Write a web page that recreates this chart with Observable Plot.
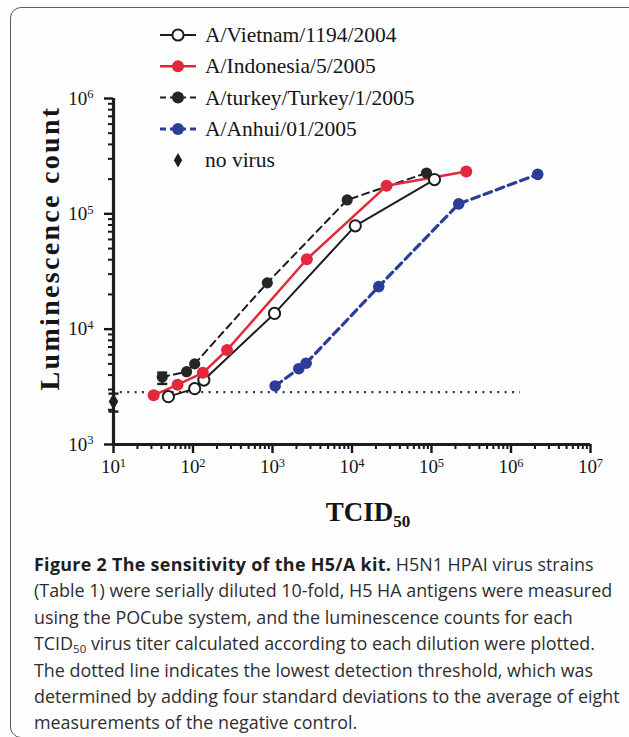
<!DOCTYPE html>
<html>
<head>
<meta charset="utf-8">
<script src="https://cdn.jsdelivr.net/npm/d3@7"></script>
<script src="https://cdn.jsdelivr.net/npm/@observablehq/plot@0.6"></script>
<style>
  body { margin: 0; background: #fefefe; }
  #wrap { position: relative; width: 629px; height: 737px; overflow: hidden; background: #fefefe;
          font-family: "Liberation Serif", "Times New Roman", serif; }
  #frame { position: absolute; left: 10px; top: 7px; width: 720px; height: 731px;
           border: 1.6px solid #5a5a5a; border-radius: 11px; box-sizing: border-box; }
  #chart { position: absolute; left: 0; top: 0; }
  #legend { position: absolute; left: 0; top: 0; }
  #ytitle { position: absolute; left: 50px; top: 248px; transform: translate(-50%, -50%) rotate(-90deg);
            white-space: nowrap; font-weight: bold; font-size: 28px; letter-spacing: 2.3px; color: #151515; }
  #xtitle { position: absolute; left: 368px; top: 512px; transform: translate(-50%, -50%);
            white-space: nowrap; font-weight: bold; font-size: 27px; color: #151515; }
  #xtitle sub { font-size: 17px; vertical-align: -6px; line-height: 0; }
  #caption { position: absolute; left: 34px; top: 551px; font-family: "Open Sans", sans-serif;
             font-size: 17.9px; line-height: 26.4px; color: #2e2e2e; white-space: nowrap; letter-spacing: 0px; }
  #caption b { color: #1e1e1e; letter-spacing: 0.3px; }
  #caption sub { font-size: 11.5px; vertical-align: -3px; line-height: 0; }
</style>
</head>
<body>
<div id="wrap">
  <div id="frame"></div>
  <div id="chart"></div>
  <svg id="legend" width="629" height="180"></svg>
  <div id="ytitle">Luminescence count</div>
  <div id="xtitle">TCID<sub>50</sub></div>
  <div id="caption">
    <b>Figure 2 The sensitivity of the H5/A kit.</b> H5N1 HPAI virus strains<br>
    (Table 1) were serially diluted 10-fold, H5 HA antigens were measured<br>
    using the POCube system, and the luminescence counts for each<br>
    TCID<sub>50</sub> virus titer calculated according to each dilution were plotted.<br>
    The dotted line indicates the lowest detection threshold, which was<br>
    determined by adding four standard deviations to the average of eight<br>
    measurements of the negative control.
  </div>
</div>
<script>
// ---- data ----
const seriesNames = ["A/Vietnam/1194/2004", "A/Indonesia/5/2005", "A/turkey/Turkey/1/2005", "A/Anhui/01/2005", "no virus"];

const vietnamX = [49, 105, 137, 1060, 11000, 109000];
const vietnamY = [2600, 3050, 3620, 13700, 78700, 198000];

const indonesiaX = [32, 64, 133, 268, 2700, 27200, 274000];
const indonesiaY = [2670, 3300, 4180, 6600, 40400, 175000, 233000];

const turkeyX = [41, 83, 105, 860, 8700, 86500];
const turkeyY = [3850, 4280, 5000, 25200, 132000, 226000];
const turkeyErrLow = [3350];
const turkeyErrHigh = [4200];

const anhuiX = [1080, 2140, 2650, 21700, 220000, 2170000];
const anhuiY = [3220, 4540, 5070, 23400, 122000, 220000];

const noVirusX = [10];
const noVirusY = [2360];
const noVirusLow = [1930];
const noVirusHigh = [2760];

const thresholdY = [2850];
const thresholdX = [12, 1300000];

const xTicksMajor = [10, 100, 1e3, 1e4, 1e5, 1e6, 1e7];
const yTicksMajor = [1e3, 1e4, 1e5, 1e6];

// ---- build ----
const minorOf = (majors) => majors.slice(0, -1).flatMap(m => [2,3,4,5,6,7,8,9].map(k => k * m));
const xTicksMinor = minorOf(xTicksMajor);
const yTicksMinor = minorOf(yTicksMajor);

const pts = (xs, ys) => xs.map((x, i) => ({x, y: ys[i]}));
const vietnam = pts(vietnamX, vietnamY);
const indonesia = pts(indonesiaX, indonesiaY);
const turkey = pts(turkeyX, turkeyY);
const anhui = pts(anhuiX, anhuiY);
const noVirus = noVirusX.map((x, i) => ({x, y: noVirusY[i], lo: noVirusLow[i], hi: noVirusHigh[i]}));
const turkeyErr = turkeyErrLow.map((lo, i) => ({x: turkeyX[i], lo, hi: turkeyErrHigh[i]}));
const threshold = [{x1: thresholdX[0], x2: thresholdX[1], y: thresholdY[0]}];

const RED = "#e3283c", BLUE = "#2b3d98", BLACK = "#1d1d1d";
const cap = { draw(ctx) { ctx.moveTo(-5, 0); ctx.lineTo(5, 0); } };
const expFmt = d => String(Math.round(Math.log10(d)));

const chart = Plot.plot({
  width: 629, height: 540,
  marginLeft: 113, marginRight: 39, marginTop: 98, marginBottom: 96,
  x: {type: "log", domain: [10, 1e7]},
  y: {type: "log", domain: [1e3, 1e6]},
  style: {fontFamily: "'Liberation Serif', 'Times New Roman', serif", fontSize: "19px", color: "#151515", background: "transparent", overflow: "visible"},
  marks: [
    Plot.axisX(xTicksMinor, {tickSize: 5, strokeWidth: 2, tickFormat: () => "", label: null}),
    Plot.axisX(xTicksMajor, {tickSize: 9, strokeWidth: 2.4, tickFormat: expFmt, tickPadding: 6, fontSize: 19, label: null}),
    Plot.axisY(yTicksMinor, {tickSize: 5, strokeWidth: 2, tickFormat: () => "", label: null}),
    Plot.axisY(yTicksMajor, {tickSize: 9, strokeWidth: 2.4, tickFormat: expFmt, tickPadding: 11, fontSize: 19, label: null}),
    Plot.ruleY([1e3], {stroke: BLACK, strokeWidth: 3.2}),
    Plot.ruleX([10], {stroke: BLACK, strokeWidth: 3.2}),
    Plot.link(threshold, {x1: "x1", x2: "x2", y1: "y", y2: "y", stroke: "#333", strokeWidth: 2.2, strokeDasharray: "2 5.4"}),
    // error bars
    Plot.ruleX(noVirus, {x: "x", y1: "lo", y2: "hi", stroke: BLACK, strokeWidth: 2.2}),
    Plot.dot(noVirus, {x: "x", y: "lo", symbol: cap, stroke: BLACK, strokeWidth: 2.4}),
    Plot.dot(noVirus, {x: "x", y: "hi", symbol: cap, stroke: BLACK, strokeWidth: 2.4}),
    Plot.ruleX(turkeyErr, {x: "x", y1: "lo", y2: "hi", stroke: BLACK, strokeWidth: 2}),
    Plot.dot(turkeyErr, {x: "x", y: "hi", symbol: cap, stroke: BLACK, strokeWidth: 2.4}),
    Plot.dot(turkeyErr, {x: "x", y: "lo", symbol: cap, stroke: BLACK, strokeWidth: 2.4}),
    // lines
    Plot.line(anhui, {x: "x", y: "y", stroke: BLUE, strokeWidth: 3.2, strokeDasharray: "8 5"}),
    Plot.line(turkey, {x: "x", y: "y", stroke: BLACK, strokeWidth: 2, strokeDasharray: "7 5"}),
    Plot.line(vietnam, {x: "x", y: "y", stroke: BLACK, strokeWidth: 2}),
    Plot.line(indonesia, {x: "x", y: "y", stroke: RED, strokeWidth: 2.5}),
    // points
    Plot.dot(anhui, {x: "x", y: "y", r: 5.8, fill: BLUE}),
    Plot.dot(turkey, {x: "x", y: "y", r: 5.6, fill: "#262626"}),
    Plot.dot(vietnam, {x: "x", y: "y", r: 5.6, fill: "#fefefe", stroke: BLACK, strokeWidth: 2}),
    Plot.dot(indonesia, {x: "x", y: "y", r: 6, fill: RED}),
    Plot.dot(noVirus, {x: "x", y: "y", r: 5, symbol: "diamond", fill: BLACK})
  ]
});
document.getElementById("chart").appendChild(chart);

// superscript tick labels 10^n
chart.querySelectorAll('g[aria-label$="tick label"] text').forEach(t => {
  const e = t.textContent.trim();
  if (!e) return;
  t.textContent = "10";
  const s = document.createElementNS("http://www.w3.org/2000/svg", "tspan");
  s.setAttribute("dy", "-0.5em");
  s.setAttribute("font-size", "0.66em");
  s.textContent = e;
  t.appendChild(s);
});

// legend
const leg = d3.select("#legend");
const styles = [
  {stroke: BLACK, dash: null, w: 2, fill: "#fefefe", ring: true, line: true},
  {stroke: RED, dash: null, w: 2.5, fill: RED, ring: false, line: true},
  {stroke: BLACK, dash: "7 5", w: 2, fill: "#262626", ring: false, line: true},
  {stroke: BLUE, dash: "8 5", w: 3, fill: BLUE, ring: false, line: true},
  {stroke: BLACK, dash: null, w: 0, fill: BLACK, ring: false, line: false, diamond: true}
];
seriesNames.forEach((name, i) => {
  const y = 35 + i * 31.3, cx = 178, st = styles[i];
  const g = leg.append("g");
  if (st.line) {
    const ln = g.append("line").attr("x1", 160).attr("x2", 196).attr("y1", y).attr("y2", y)
      .attr("stroke", st.stroke).attr("stroke-width", st.w);
    if (st.dash) ln.attr("stroke-dasharray", "6 4").attr("stroke-dashoffset", 0);
  }
  if (st.diamond) {
    g.append("path").attr("d", d3.symbol(d3.symbolDiamond, 60)()).attr("transform", `translate(${cx},${y})`).attr("fill", BLACK);
  } else if (st.ring) {
    g.append("circle").attr("cx", cx).attr("cy", y).attr("r", 5.6).attr("fill", "#fefefe").attr("stroke", BLACK).attr("stroke-width", 2);
  } else {
    g.append("circle").attr("cx", cx).attr("cy", y).attr("r", 6).attr("fill", st.fill);
  }
  g.append("text").attr("x", 205).attr("y", y + 7).text(name)
    .attr("font-family", "'Liberation Serif', 'Times New Roman', serif").attr("font-size", 21.5).attr("fill", "#151515");
});
</script>
</body>
</html>
